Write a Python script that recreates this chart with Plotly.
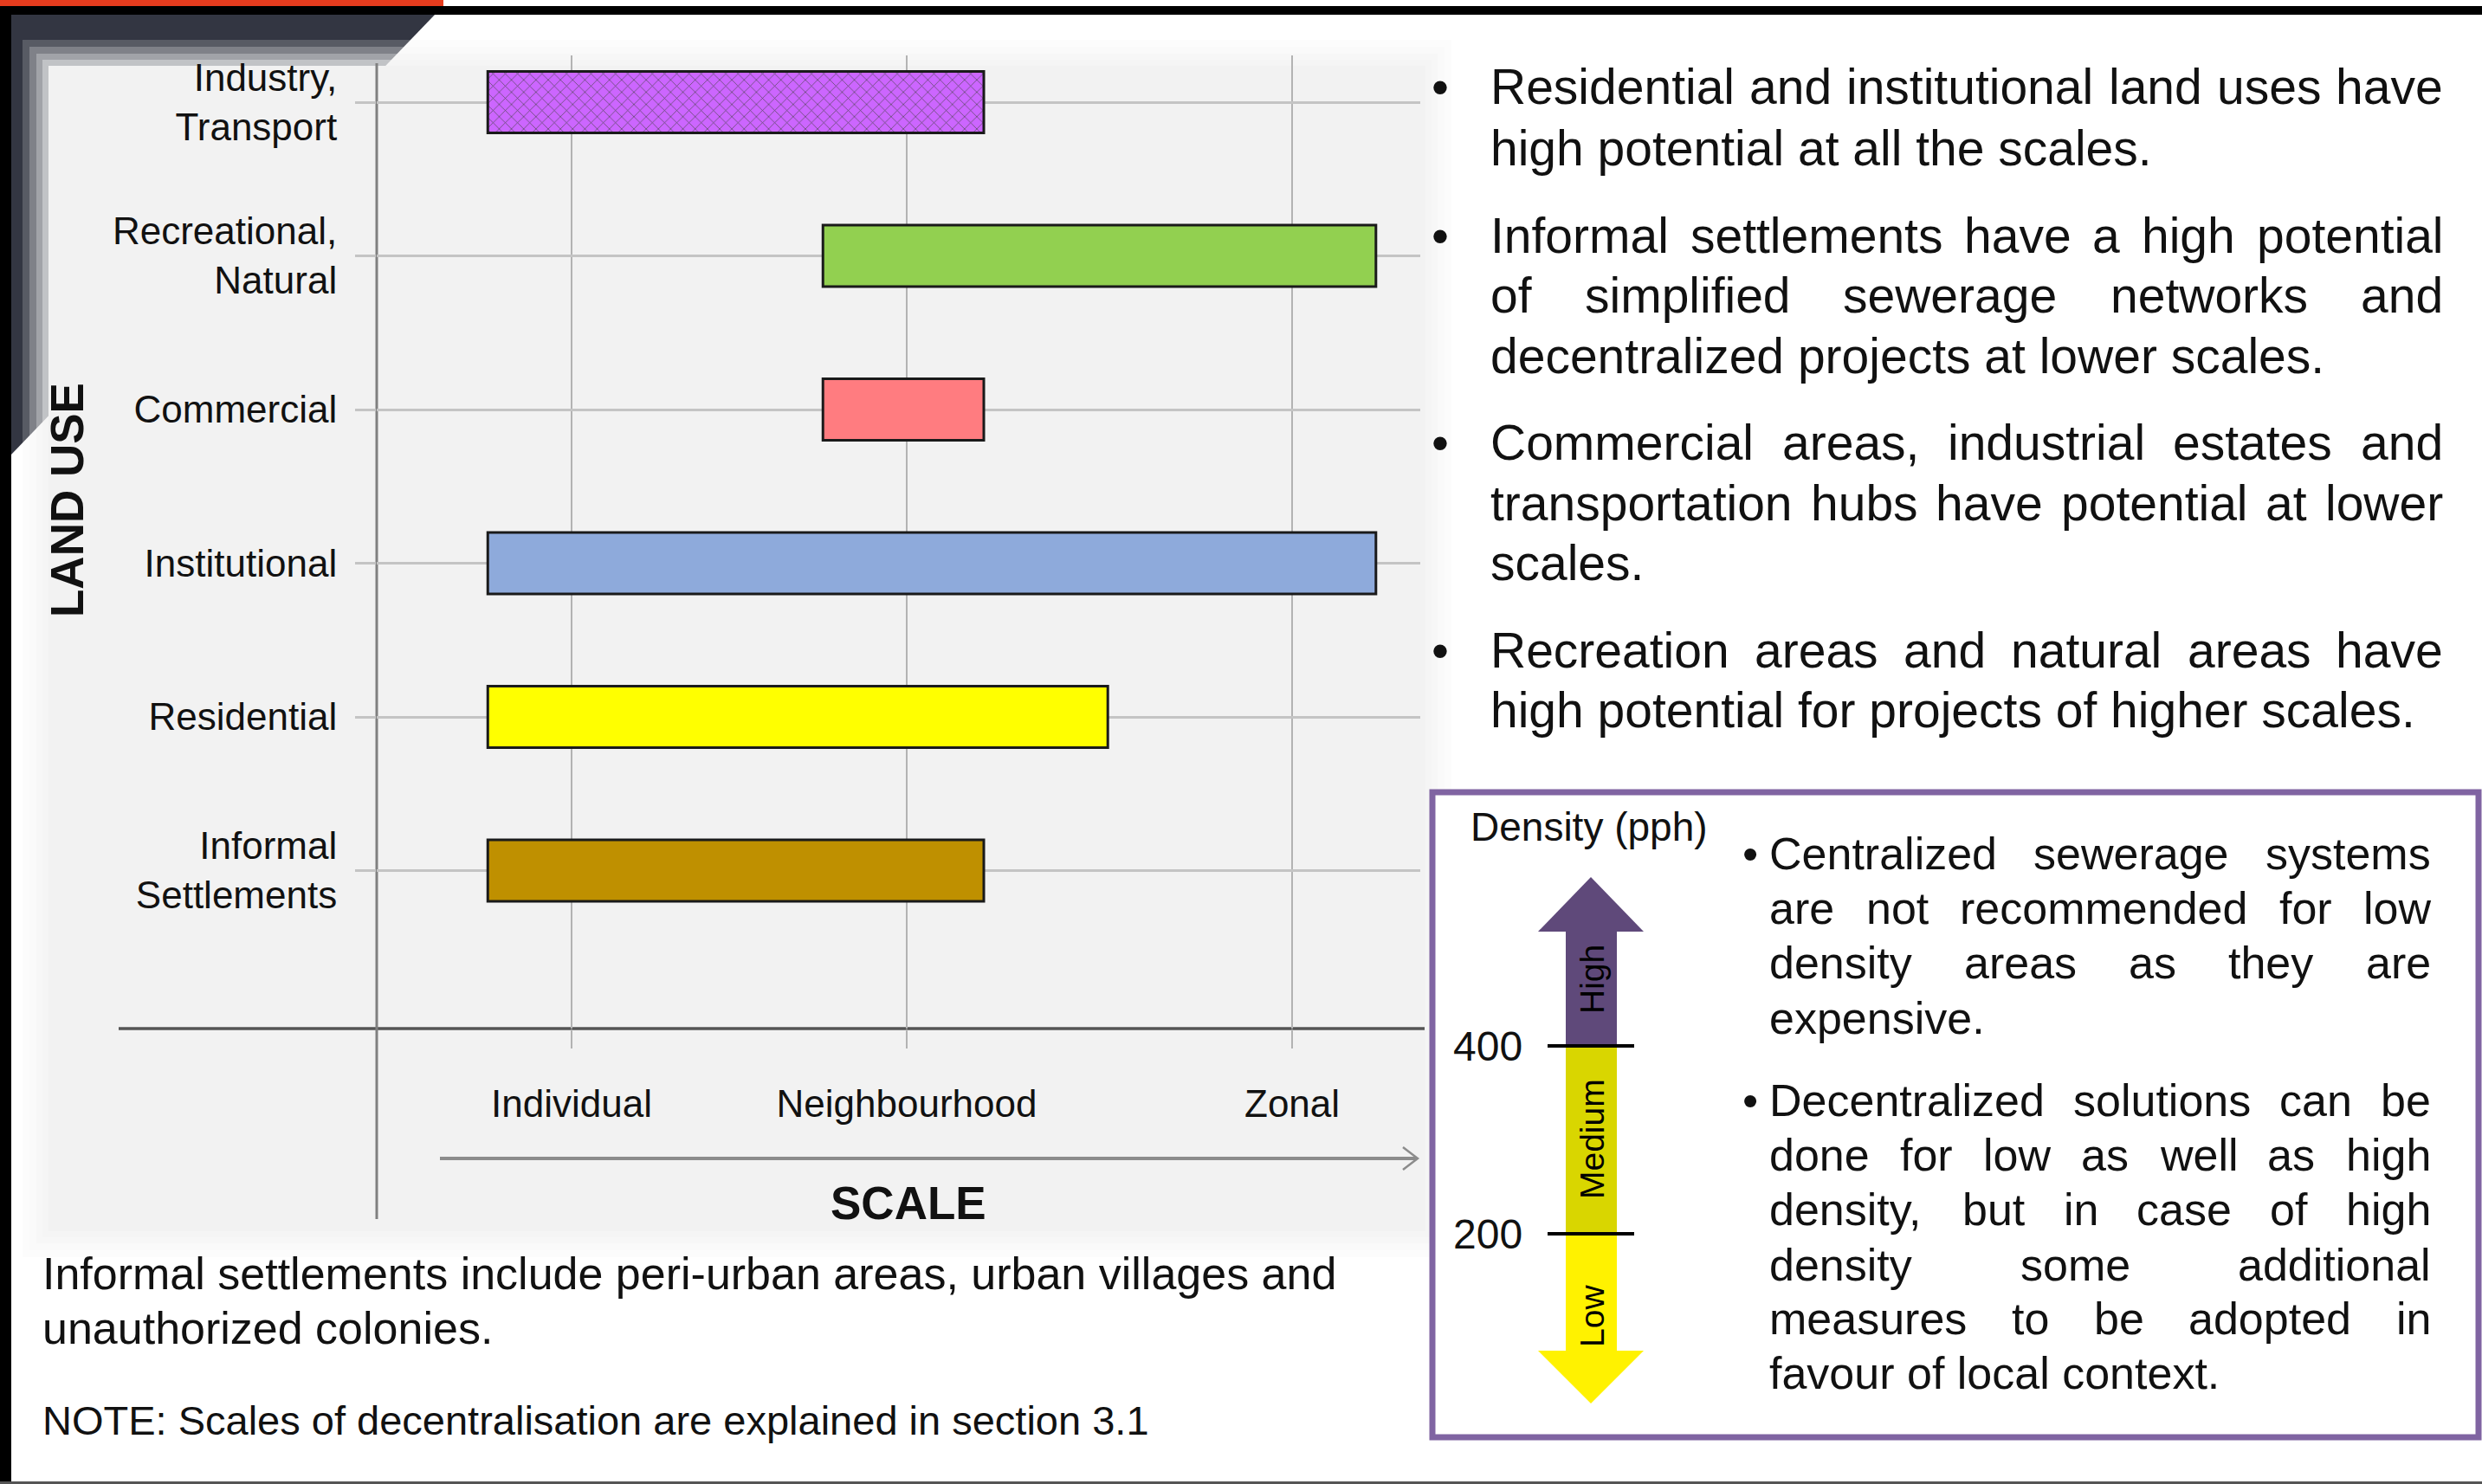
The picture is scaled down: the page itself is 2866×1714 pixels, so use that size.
import plotly.graph_objects as go

W, H = 2866, 1714

# ---------------- data ----------------
land_uses = ["Industry, Transport", "Recreational, Natural", "Commercial",
             "Institutional", "Residential", "Informal Settlements"]
land_use_labels = ["Industry,<br>Transport", "Recreational,<br>Natural", "Commercial",
                   "Institutional", "Residential", "Informal<br>Settlements"]
scale_start = [0.75, 1.75, 1.75, 0.75, 0.75, 0.75]
scale_end = [2.23, 3.40, 2.23, 3.40, 2.60, 2.23]
scale_names = ["Individual", "Neighbourhood", "Zonal"]
scale_positions = [1.0, 2.0, 3.15]
bar_colors = ["#cc66ff", "#92d050", "#ff7c80", "#8eaadb", "#ffff00", "#bf9000"]
bar_patterns = ["x", "", "", "", "", ""]

density_thresholds = ["400", "200"]
density_levels = ["High", "Medium", "Low"]

right_notes = [
    ["Residential and institutional land uses have",
     "high potential at all the scales."],
    ["Informal settlements have a high potential",
     "of simplified sewerage networks and",
     "decentralized projects at lower scales."],
    ["Commercial areas, industrial estates and",
     "transportation hubs have potential at lower",
     "scales."],
    ["Recreation areas and natural areas have",
     "high potential for projects of higher scales."],
]
box_notes = [
    ["Centralized sewerage systems",
     "are not recommended for low",
     "density areas as they are",
     "expensive."],
    ["Decentralized solutions can be",
     "done for low as well as high",
     "density, but in case of high",
     "density some additional",
     "measures to be adopted in",
     "favour of local context."],
]
footnote_lines = ["Informal settlements include peri-urban areas, urban villages and",
                  "unauthorized colonies."]
note_line = "NOTE: Scales of decentralisation are explained in section 3.1"

FONT = "Liberation Sans, Arial, Helvetica, sans-serif"
TXT = "#111111"


def px(x):
    return x / W


def py(y):
    return 1 - y / H


# Arial / Liberation Sans advance widths (per 1000 em)
AW = {" ": 278, ",": 278, ".": 278, "-": 333, ":": 278, "(": 333, ")": 333,
      "A": 667, "B": 667, "C": 722, "D": 722, "E": 667, "F": 611, "G": 778, "H": 722,
      "I": 278, "J": 500, "K": 667, "L": 556, "M": 833, "N": 722, "O": 778, "P": 667,
      "Q": 778, "R": 722, "S": 667, "T": 611, "U": 722, "V": 667, "W": 944, "X": 667,
      "Y": 667, "Z": 611,
      "a": 556, "b": 556, "c": 500, "d": 556, "e": 556, "f": 278, "g": 556, "h": 556,
      "i": 222, "j": 222, "k": 500, "l": 222, "m": 833, "n": 556, "o": 556, "p": 556,
      "q": 556, "r": 333, "s": 500, "t": 278, "u": 556, "v": 500, "w": 722, "x": 500,
      "y": 500, "z": 500}


def text_w(s, fs):
    return sum(AW.get(c, 556) for c in s) * fs / 1000.0


annotations = []
shapes = []


def add_text(x, y, text, size, xanchor="left", bold=False, angle=0, color=TXT):
    annotations.append(dict(
        x=px(x), y=py(y), xref="paper", yref="paper", text=("<b>%s</b>" % text) if bold else text,
        showarrow=False, xanchor=xanchor, yanchor="middle", textangle=angle,
        font=dict(family=FONT, size=size, color=color), borderpad=0))


def justified_block(paragraphs, x_left, x_right, ys, fs, bullet_x):
    k = 0
    for para in paragraphs:
        for j, line in enumerate(para):
            y = ys[k]
            k += 1
            if j == 0:
                add_text(bullet_x, y, "•", fs, xanchor="center")
            words = line.split()
            last = (j == len(para) - 1)
            if last or len(words) == 1:
                add_text(x_left, y, line, fs)
                continue
            widths = [text_w(w, fs) for w in words]
            gap = (x_right - x_left - sum(widths)) / (len(words) - 1)
            xx = x_left
            for w, wd in zip(words, widths):
                add_text(xx, y, w, fs)
                xx += wd + gap


# ---------------- decorative frame ----------------
def rect(x0, y0, x1, y1, fill, line_color=None, lw=0, opacity=1.0, layer="below"):
    shapes.append(dict(type="rect", xref="paper", yref="paper",
                       x0=px(x0), x1=px(x1), y0=py(y1), y1=py(y0),
                       fillcolor=fill, opacity=opacity, layer=layer,
                       line=dict(color=line_color or fill, width=lw)))


def line(x0, y0, x1, y1, color, lw, layer="below"):
    shapes.append(dict(type="line", xref="paper", yref="paper",
                       x0=px(x0), x1=px(x1), y0=py(y0), y1=py(y1),
                       line=dict(color=color, width=lw), layer=layer))


def poly(points, fill, layer="below", closed=True, lw=0, color=None):
    d = "M " + " L ".join("%.6f,%.6f" % (px(a), py(b)) for a, b in points)
    if closed:
        d += " Z"
    shapes.append(dict(type="path", xref="paper", yref="paper", path=d,
                       fillcolor=fill if closed else None, layer=layer,
                       line=dict(color=color or fill or "rgba(0,0,0,0)", width=lw)))


# dark slanted corner
poly([(13, 17), (502, 17), (13, 525)], "#333642")
# orange strip + black band + left border + bottom line
rect(0, 0, 512, 7, "#e63c1e")
rect(0, 7, W, 17, "#000000")
rect(0, 7, 13, H, "#000000")
rect(0, 1711, W, H, "#555555")

# chart panel with soft edges
for grow, op in [(30, 0.2), (22, 0.25), (14, 0.3), (7, 0.4)]:
    rect(56 - grow, 76 - grow, 1646 + grow, 1422 + grow, "#f2f2f2", opacity=op)
rect(56, 76, 1646, 1422, "#f2f2f2")

# extended axis lines and scale arrow
line(137, 1188, 1645, 1188, "#555555", 3.5)
line(435, 73, 435, 1408, "#808080", 3)
line(508, 1338, 1636, 1338, "#8c8c8c", 4)
poly([(1620, 1325), (1637, 1338), (1620, 1351)], None, closed=False, lw=2.5, color="#8c8c8c")

# ---------------- density box ----------------
rect(1654, 915, 2862, 1660, "#ffffff", line_color="#8064a2", lw=7)
PUR, MED, LOW = "#5f497a", "#d9d600", "#fff200"
poly([(1776, 1076), (1837, 1013), (1898, 1076)], PUR)
rect(1808, 1075, 1867, 1208, PUR)
rect(1808, 1208, 1867, 1425, MED)
rect(1808, 1425, 1867, 1561, LOW)
poly([(1776, 1560), (1837, 1621), (1898, 1560)], LOW)
line(1787, 1208, 1887, 1208, "#000000", 4)
line(1787, 1425, 1887, 1425, "#000000", 4)

add_text(1835, 955, "Density (pph)", 46, xanchor="center")
for lab, y in zip(density_thresholds, [1208, 1425]):
    add_text(1718, y, lab, 48, xanchor="center")
for lab, y in zip(density_levels, [1131, 1316, 1520]):
    add_text(1838, y, lab, 39, xanchor="center", angle=-90, color="#000000")

justified_block(box_notes, 2042, 2806,
                [986, 1049, 1112, 1176, 1271, 1334, 1397, 1461, 1523, 1586], 52, 2021)

# ---------------- right bullet notes ----------------
justified_block(right_notes, 1720, 2820,
                [100, 171, 272, 341, 411, 511, 581, 650, 751, 820], 57, 1663)

# ---------------- left texts ----------------
add_text(77, 578, "LAND USE", 53, xanchor="center", bold=True, angle=-90)
add_text(1049, 1389, "SCALE", 53, xanchor="center", bold=True)
add_text(48, 1471, footnote_lines[0], 52)
add_text(48, 1534, footnote_lines[1], 52)
add_text(48, 1640, note_line, 47)

# ---------------- bars ----------------
lengths = [e - s for s, e in zip(scale_start, scale_end)]
fig = go.Figure(go.Bar(
    y=land_uses, x=lengths, base=scale_start, orientation="h", width=0.4,
    marker=dict(color=bar_colors, line=dict(color="#1a1a1a", width=3),
                pattern=dict(shape=bar_patterns, fgcolor="#4d2160", fgopacity=0.85,
                             size=10, solidity=0.14, fillmode="overlay")),
    hoverinfo="skip", showlegend=False))

ppu = 387.0  # pixels per scale unit, used only for axis range
x_lo = 1 + (435 - 660) / ppu
x_hi = 1 + (1640 - 660) / ppu
y_top, y_step = 118.0, 177.5

fig.update_layout(
    width=W, height=H, margin=dict(l=0, r=0, t=0, b=0),
    paper_bgcolor="#ffffff", plot_bgcolor="rgba(0,0,0,0)",
    font=dict(family=FONT, color=TXT),
    shapes=shapes, annotations=annotations,
    xaxis=dict(domain=[px(435), px(1640)], range=[x_lo, x_hi],
               tickvals=scale_positions, ticktext=scale_names,
               showgrid=True, gridcolor="#b3b3b3", gridwidth=2,
               ticks="outside", ticklen=22, tickwidth=2, tickcolor="#b3b3b3",
               tickfont=dict(family=FONT, size=44, color=TXT),
               ticklabelstandoff=26, zeroline=False, showline=False),
    yaxis=dict(domain=[py(1188), py(64)], type="category",
               categoryarray=land_uses,
               range=[(1188 - y_top) / y_step, (64 - y_top) / y_step],
               tickvals=land_uses, ticktext=land_use_labels,
               showgrid=True, gridcolor="#c4c4c4", gridwidth=2.5,
               ticks="outside", ticklen=24, tickwidth=2.5, tickcolor="#c4c4c4",
               tickfont=dict(family=FONT, size=44, color=TXT),
               ticklabelstandoff=12, zeroline=False, showline=False),
)

fig.write_html("out.html")
